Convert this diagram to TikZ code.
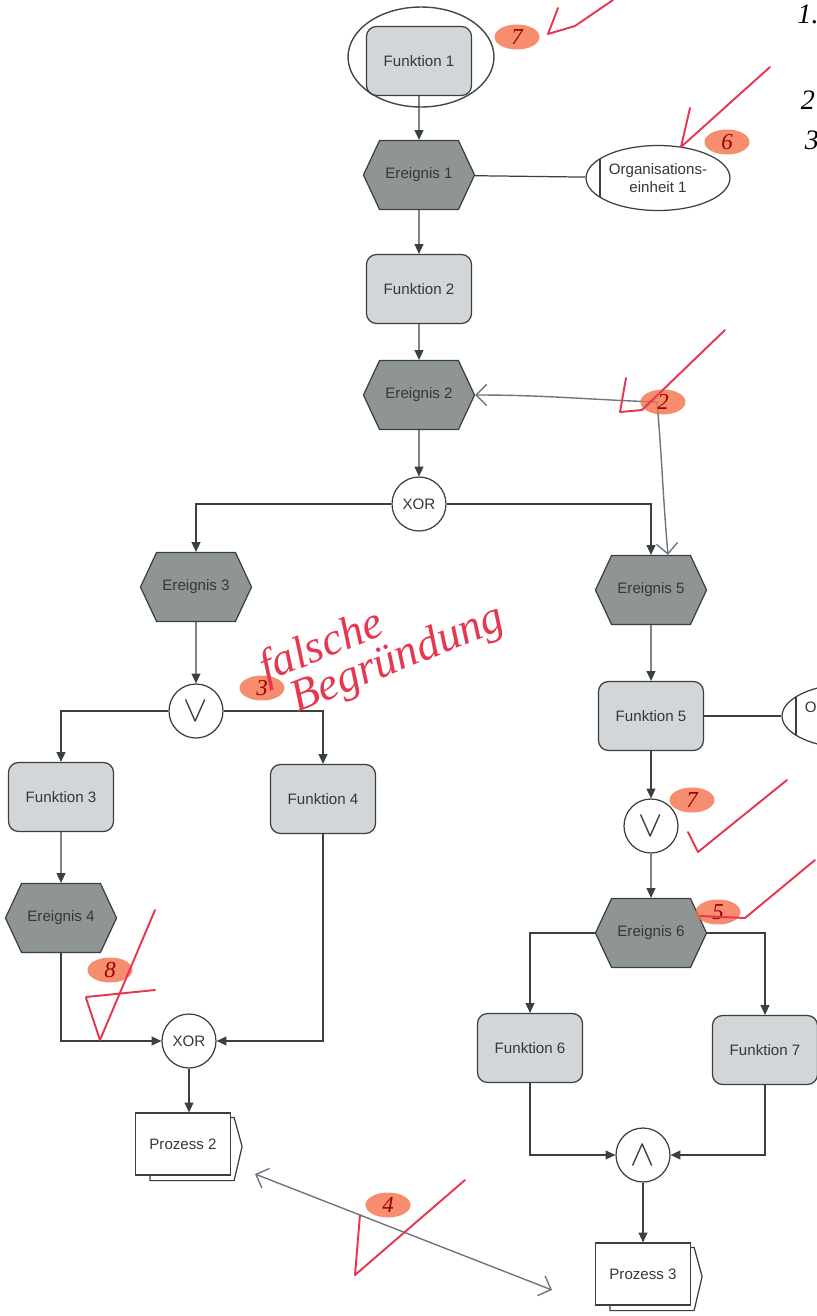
\documentclass[tikz,border=0pt]{standalone}
\usepackage{fontspec}
\setmainfont{Liberation Sans}
\newfontfamily\handfont{Liberation Serif}
\usetikzlibrary{shapes.geometric,shapes.symbols,arrows.meta,backgrounds,calc}

\definecolor{fktgray}{HTML}{D2D6D9}
\definecolor{evtgray}{HTML}{8F9494}
\definecolor{epcline}{HTML}{3A4040}
\definecolor{epctext}{HTML}{333838}
\definecolor{penred}{HTML}{E63650}
\definecolor{blobred}{HTML}{F2704A}
\definecolor{pengray}{HTML}{6E757E}

\tikzset{
	epc/.style={draw=epcline, line width=0.7pt, text=epctext, font=\fontsize{8.6}{10}\selectfont},
	funktion/.style={epc, fill=fktgray, rounded corners=0.2cm, minimum width=2.1cm, minimum height=1.38cm},
	ereignis/.style={epc, fill=evtgray, signal, signal to=west and east, signal pointer angle=130, minimum width=2.1cm, minimum height=1.38cm},
	konn/.style={epc, fill=white, circle, minimum size=1.08cm, inner sep=0pt},
	symb/.style={konn, font=\fontsize{20}{20}\selectfont},
	orgeinheit/.style={epc, fill=white, ellipse, minimum width=2.6cm, minimum height=1.3cm, align=center, inner sep=1pt,
		path picture={\draw[epcline, line width=0.7pt] ([xshift=0.28cm]path picture bounding box.north west) -- ([xshift=0.28cm]path picture bounding box.south west);}},
	prozess/.style={epc, fill=white, minimum width=1.9cm, minimum height=1.24cm},
	fluss/.style={draw=epcline, line width=0.7pt, -{Triangle[length=5.5pt,width=5pt]}},
	stift/.style={draw=penred, line width=1.1pt, line cap=round, line join=round},
	bleistift/.style={draw=pengray, line width=0.8pt, line cap=round},
	blob/.style={fill=blobred, opacity=0.8, ellipse, minimum width=0.9cm, minimum height=0.5cm, inner sep=0pt},
	ziffer/.style={text=red!60!black, font=\handfont\itshape\fontsize{13}{13}\selectfont}
}

\begin{document}
\begin{tikzpicture}[x=0.02cm, y=-0.02cm]
	\useasboundingbox (0,0) rectangle (817,1316);

	% linker Strang
	\node[funktion] (f1) at (419,61) {Funktion 1};
	\node[ereignis] (e1) at (419,175) {Ereignis 1};
	\node[orgeinheit] (o1) at (658,178) {Organisations-\\einheit 1};
	\node[funktion] (f2) at (419,289) {Funktion 2};
	\node[ereignis] (e2) at (419,395) {Ereignis 2};
	\node[konn] (x1) at (419,504) {XOR};

	\node[ereignis] (e3) at (196,587) {Ereignis 3};
	\node[symb] (v1) at (196,711) {$\vee$};
	\node[funktion] (f3) at (61,797) {Funktion 3};
	\node[funktion] (f4) at (323,799) {Funktion 4};
	\node[ereignis] (e4) at (61,918) {Ereignis 4};
	\node[konn] (x2) at (189,1041) {XOR};
	\node[prozess] (p2) at (183,1144) {Prozess 2};

	% rechter Strang
	\node[ereignis] (e5) at (651,590) {Ereignis 5};
	\node[funktion] (f5) at (651,716) {Funktion 5};
	\node[orgeinheit] (o2) at (854,716) {Organisations-\\einheit 2};
	\node[symb] (v2) at (651,826) {$\vee$};
	\node[ereignis] (e6) at (651,933) {Ereignis 6};
	\node[funktion] (f6) at (530,1048) {Funktion 6};
	\node[funktion] (f7) at (765,1050) {Funktion 7};
	\node[symb] (u1) at (643,1155) {$\wedge$};
	\node[prozess] (p3) at (643,1274) {Prozess 3};

	\begin{scope}[on background layer]
		\foreach \p in {p2,p3} {
			\draw[epc, fill=white] ([shift={(0.3cm,-0.1cm)}]\p.north west) -- ([shift={(0.06cm,-0.1cm)}]\p.north east)
				-- ([shift={(0.22cm,-0.05cm)}]\p.east) -- ([shift={(0.06cm,-0.1cm)}]\p.south east)
				-- ([shift={(0.3cm,-0.1cm)}]\p.south west) -- cycle;
		}
	\end{scope}

	\draw[fluss] (f1) -- (e1);
	\draw[epcline, line width=0.7pt] (e1) -- (o1);
	\draw[fluss] (e1) -- (f2);
	\draw[fluss] (f2) -- (e2);
	\draw[fluss] (e2) -- (x1);
	\draw[fluss] (x1) -| (e3);
	\draw[fluss] (x1) -| (e5);

	\draw[fluss] (e3) -- (v1);
	\draw[fluss] (v1) -| (f3);
	\draw[fluss] (v1) -| (f4);
	\draw[fluss] (f3) -- (e4);
	\draw[fluss] (e4) |- (x2);
	\draw[fluss] (f4) |- (x2);
	\draw[fluss] (x2.south) -- (x2.south |- p2.north);

	\draw[fluss] (e5) -- (f5);
	\draw[epcline, line width=0.7pt] (f5) -- (o2);
	\draw[fluss] (f5) -- (v2);
	\draw[fluss] (v2) -- (e6);
	\draw[fluss] (e6) -| (f6);
	\draw[fluss] (e6) -| (f7);
	\draw[fluss] (f6) |- (u1);
	\draw[fluss] (f7) |- (u1);
	\draw[fluss] (u1) -- (p3);

	% Korrektur
	\draw[pengray!60!black, line width=0.8pt] (421,57) ellipse [x radius=1.46cm, y radius=1.0cm];
	\coordinate (m2) at (657,402);
	\draw[bleistift, -{Straight Barb[length=6pt]}] (m2) to[out=178, in=0] (e2.east);
	\draw[bleistift, -{Straight Barb[length=6pt]}] (m2) to[out=-85, in=95] ([xshift=0.34cm]e5.north);
	\coordinate (h4a) at (255,1174);
	\coordinate (h4b) at (552,1290);
	\draw[bleistift, {Straight Barb[length=6pt]}-{Straight Barb[length=6pt]}] (h4a) -- (h4b);

	\node[blob] (b7) at (517,37) {}; \node[ziffer] at (b7) {7};
	\node[blob] (b6) at (727,142) {}; \node[ziffer] at (b6) {6};
	\node[blob] (b2) at (663,402) {}; \node[ziffer] at (b2) {2};
	\node[blob] (b3) at (262,688) {}; \node[ziffer] at (b3) {3};
	\node[blob] (b7b) at (692,800) {}; \node[ziffer] at (b7b) {7};
	\node[blob] (b5) at (718,912) {}; \node[ziffer] at (b5) {5};
	\node[blob] (b8) at (110,970) {}; \node[ziffer] at (b8) {8};
	\node[blob] (b4) at (388,1205) {}; \node[ziffer] at (b4) {4};

	\draw[stift] (558,8) -- (548,34) -- (575,26) -- (613,0);
	\draw[stift] (690,108) -- (681,147) -- (770,67);
	\draw[stift] (626,378) -- (620,412) -- (642,410) -- (725,330);
	\draw[stift] (688,832) -- (698,852) -- (787,780);
	\draw[stift] (700,916) -- (745,918) -- (815,860);
	\draw[stift] (86,998) -- (100,1040) -- (155,910);
	\draw[stift] (86,997) -- (155,990);
	\draw[stift] (360,1215) -- (355,1275) -- (465,1180);

	\node[text=penred, rotate=22, font=\handfont\itshape\fontsize{26}{26}\selectfont] (fb1) at (322,648) {falsche};
	\node[text=penred, rotate=22, font=\handfont\itshape\fontsize{26}{26}\selectfont] (fb2) at (398,660) {Begründung};

	\node[font=\handfont\itshape\fontsize{16}{16}\selectfont] (n1) at (808,14) {1.};
	\node[font=\handfont\itshape\fontsize{16}{16}\selectfont] (n2) at (808,100) {2};
	\node[font=\handfont\itshape\fontsize{16}{16}\selectfont] (n3) at (812,140) {3};
\end{tikzpicture}
\end{document}
